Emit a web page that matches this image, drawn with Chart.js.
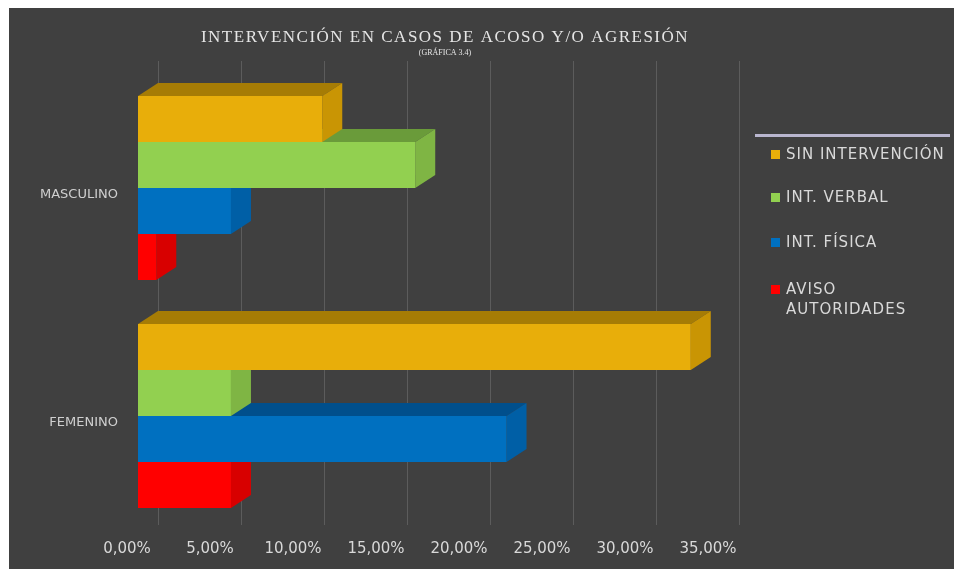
<!DOCTYPE html>
<html>
<head>
<meta charset="utf-8">
<script src="https://cdn.jsdelivr.net/npm/chart.js@4.4.1/dist/chart.umd.min.js"></script>
<style>
  body { margin: 0; background: #ffffff; }
  #wrap { position: absolute; left: 9px; top: 8px; width: 945px; height: 561px; background: #404040; }
</style>
</head>
<body>
<div id="wrap"><canvas id="chart" width="945" height="561"></canvas></div>
<script>
// --- DATA ---
const categories = ['MASCULINO', 'FEMENINO'];
const seriesNames = ['SIN INTERVENCIÓN', 'INT. VERBAL', 'INT. FÍSICA', ['AVISO', 'AUTORIDADES']];
const sinIntervencion = [11.1, 33.3];
const intVerbal = [16.7, 5.6];
const intFisica = [5.6, 22.2];
const avisoAutoridades = [1.1, 5.6];
const xTicks = [0, 5, 10, 15, 20, 25, 30, 35];

// front, top face, side face
const palette = [
  ['#e8ae0a', '#a67c05', '#c99504'],
  ['#92d050', '#6a9b3a', '#7fb544'],
  ['#0070c0', '#004f8c', '#005fa6'],
  ['#ff0000', '#b80000', '#d80000']
];
const DX = 20, DY = -13;

const values = [sinIntervencion, intVerbal, intFisica, avisoAutoridades];

// 3D depth faces + back wall grid, drawn under the bars
const depthPlugin = {
  id: 'depth',
  beforeDatasetsDraw(chart) {
    const ctx = chart.ctx;
    const xs = chart.scales.x;
    const area = chart.chartArea;
    ctx.save();
    ctx.strokeStyle = '#5c5c5c';
    ctx.lineWidth = 1;
    xTicks.forEach(v => {
      const px = Math.round(xs.getPixelForValue(v) + DX) + 0.5;
      ctx.beginPath();
      ctx.moveTo(px, area.top + DY);
      ctx.lineTo(px, area.bottom + DY + 8);
      ctx.stroke();
    });
    // draw lower datasets first so upper bars cover them
    for (let d = chart.data.datasets.length - 1; d >= 0; d--) {
      const meta = chart.getDatasetMeta(d);
      meta.data.forEach(bar => {
        const x0 = bar.base, x1 = bar.x;
        const yt = bar.y - bar.height / 2, yb = bar.y + bar.height / 2;
        ctx.fillStyle = palette[d][1];
        ctx.beginPath();
        ctx.moveTo(x0, yt); ctx.lineTo(x0 + DX, yt + DY);
        ctx.lineTo(x1 + DX, yt + DY); ctx.lineTo(x1, yt);
        ctx.closePath(); ctx.fill();
        ctx.fillStyle = palette[d][2];
        ctx.beginPath();
        ctx.moveTo(x1, yt); ctx.lineTo(x1 + DX, yt + DY);
        ctx.lineTo(x1 + DX, yb + DY); ctx.lineTo(x1, yb);
        ctx.closePath(); ctx.fill();
      });
    }
    ctx.restore();
  },
  afterDraw(chart) {
    const ctx = chart.ctx;
    ctx.save();
    // title
    ctx.fillStyle = '#e6e6e6';
    ctx.textAlign = 'center';
    ctx.textBaseline = 'middle';
    ctx.letterSpacing = '1.5px';
    ctx.font = '17px "Liberation Serif", serif';
    ctx.fillText('INTERVENCIÓN EN CASOS DE ACOSO Y/O AGRESIÓN', 436, 30);
    ctx.letterSpacing = '0px';
    ctx.font = '8px "Liberation Serif", serif';
    ctx.fillText('(GRÁFICA 3.4)', 436, 45);
    // legend
    ctx.fillStyle = '#b9b6cf';
    ctx.fillRect(746, 126, 195, 3);
    ctx.textAlign = 'left';
    ctx.letterSpacing = '1px';
    ctx.font = '15px "DejaVu Sans", sans-serif';
    const rows = [147, 190, 235, 282];
    chart.data.datasets.forEach((ds, i) => {
      ctx.fillStyle = palette[i][0];
      ctx.fillRect(762, rows[i] - 5, 9, 9);
      ctx.fillStyle = '#d9d9d9';
      const lines = Array.isArray(ds.label) ? ds.label : [ds.label];
      lines.forEach((t, k) => ctx.fillText(t, 777, rows[i] + k * 20));
    });
    ctx.restore();
  }
};

new Chart(document.getElementById('chart'), {
  type: 'bar',
  data: {
    labels: categories,
    datasets: values.map((v, i) => ({
      label: seriesNames[i],
      data: v,
      backgroundColor: palette[i][0],
      borderWidth: 0,
      barPercentage: 1,
      categoryPercentage: 0.807
    }))
  },
  options: {
    indexAxis: 'y',
    responsive: false,
    animation: false,
    layout: { padding: { left: 0, top: 66, right: 235, bottom: 0 } },
    plugins: { legend: { display: false }, tooltip: { enabled: false } },
    scales: {
      x: {
        min: 0, max: 35,
        afterBuildTicks: s => { s.ticks = xTicks.map(v => ({ value: v })); },
        afterFit: s => { s.height = 39; },
        grid: { display: false, drawTicks: false },
        border: { display: false },
        ticks: {
          color: '#d9d9d9',
          font: { family: 'DejaVu Sans', size: 15 },
          padding: 10,
          labelOffset: -11,
          callback: v => v.toFixed(2).replace('.', ',') + '%'
        }
      },
      y: {
        afterFit: s => { s.width = 129; },
        grid: { display: false, drawTicks: false },
        border: { display: false },
        ticks: {
          color: '#cfcfcf',
          font: { family: 'DejaVu Sans', size: 13 },
          padding: 20,
          labelOffset: 7
        }
      }
    }
  },
  plugins: [depthPlugin]
});
</script>
</body>
</html>
